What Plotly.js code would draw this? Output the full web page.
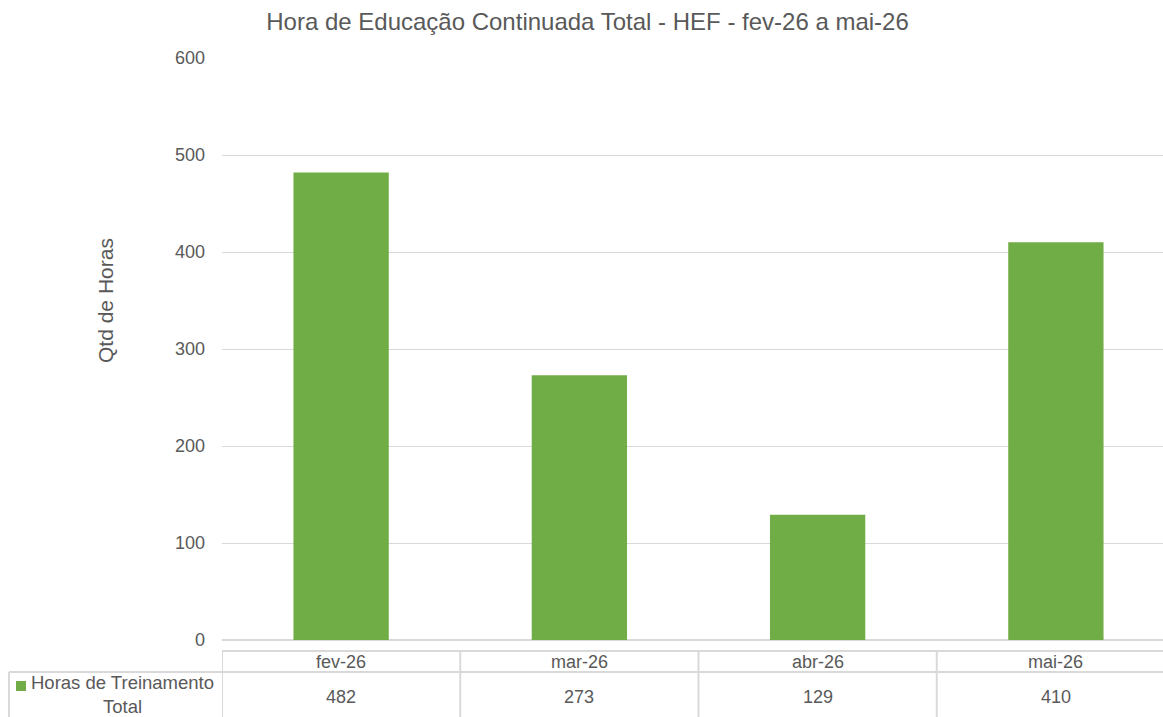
<!DOCTYPE html>
<html>
<head>
<meta charset="utf-8">
<script src="https://cdn.plot.ly/plotly-3.0.1.min.js"></script>
<style>
html,body{margin:0;padding:0;overflow:hidden;background:#fff;}
#chart{width:1175px;height:717px;}
</style>
</head>
<body>
<div id="chart"></div>
<script>
const categories = ["fev-26", "mar-26", "abr-26", "mai-26"];
const values = [482, 273, 129, 410];
const seriesName = "Horas de Treinamento Total";
const titleText = "Hora de Educação Continuada Total - HEF - fev-26 a mai-26";
const yTitle = "Qtd de Horas";
const yTicks = [0, 100, 200, 300, 400, 500, 600];

const W = 1175, H = 717;
const L = 222, R = 0, T = 58, B = 77;
const plotW = W - L - R, plotH = H - T - B;
const py = p => (H - B - p) / plotH;   // pixel y -> paper y
const px = p => (p - L) / plotW;       // pixel x -> paper x

const textColor = '#595959';
const lineColor = '#d9d9d9';
const FONT = 'Liberation Sans, Arial, sans-serif';

const shapes = [];
const annotations = [];
const rowTop = 651, rowMid = 672, rowBot = 720;

shapes.push({type:'line', xref:'x', yref:'paper', x0:-0.5, x1:categories.length-0.5, y0:py(rowTop), y1:py(rowTop), line:{color:lineColor, width:2}});
shapes.push({type:'line', xref:'paper', yref:'paper', x0:px(9), x1:1, y0:py(rowMid), y1:py(rowMid), line:{color:lineColor, width:2}});
for (let i = 0; i <= categories.length; i++) {
  shapes.push({type:'line', xref:'x', yref:'paper', x0:i-0.5, x1:i-0.5, y0:py(rowTop), y1:py(rowBot), line:{color:lineColor, width:2}});
}
shapes.push({type:'line', xref:'paper', yref:'paper', x0:px(9), x1:px(9), y0:py(rowMid), y1:py(rowBot), line:{color:lineColor, width:2}});
shapes.push({type:'rect', xref:'paper', yref:'paper', x0:px(16), x1:px(26), y0:py(681), y1:py(691), fillcolor:'#70AD47', line:{width:0}});

categories.forEach((c, i) => {
  annotations.push({xref:'x', yref:'paper', x:c, y:py(661.5), text:c, showarrow:false, font:{size:18, color:textColor, family:FONT}, yanchor:'middle'});
  annotations.push({xref:'x', yref:'paper', x:c, y:py(697), text:String(values[i]), showarrow:false, font:{size:18, color:textColor, family:FONT}, yanchor:'middle'});
});
annotations.push({xref:'paper', yref:'paper', x:px(122), y:py(694.5), text:'Horas de Treinamento<br>Total', showarrow:false, align:'center', font:{size:18.5, color:textColor, family:FONT}, yanchor:'middle', xanchor:'center'});
annotations.push({xref:'paper', yref:'paper', x:px(105), y:py(301), text:yTitle, textangle:-90, showarrow:false, font:{size:21, color:textColor, family:FONT}, xanchor:'center', yanchor:'middle'});

const data = [{
  type:'bar', x:categories, y:values, name:seriesName,
  marker:{color:'#70AD47'}, hoverinfo:'x+y'
}];

const layout = {
  width: W, height: H,
  margin:{l:L, r:R, t:T, b:B, pad:0},
  paper_bgcolor:'#fff', plot_bgcolor:'#fff',
  font:{family:FONT, color:textColor, size:18},
  title:{text:titleText, x:0.5, xanchor:'center', xref:'container', y:1-22/H, yanchor:'middle', font:{size:24, color:textColor, family:FONT}},
  showlegend:false,
  bargap:0.6,
  xaxis:{type:'category', showticklabels:false, showgrid:false, zeroline:false, showline:false, ticks:'', range:[-0.5, categories.length-0.5]},
  yaxis:{range:[0,600], tickvals:yTicks, ticktext:yTicks.map(String), showgrid:true, gridcolor:lineColor, gridwidth:1, zeroline:true, zerolinecolor:lineColor, zerolinewidth:2, showline:false, ticks:'', ticklabelstandoff:16, tickfont:{size:18, color:textColor, family:FONT}},
  shapes, annotations
};

Plotly.newPlot('chart', data, layout, {displayModeBar:false, staticPlot:true});
</script>
</body>
</html>
